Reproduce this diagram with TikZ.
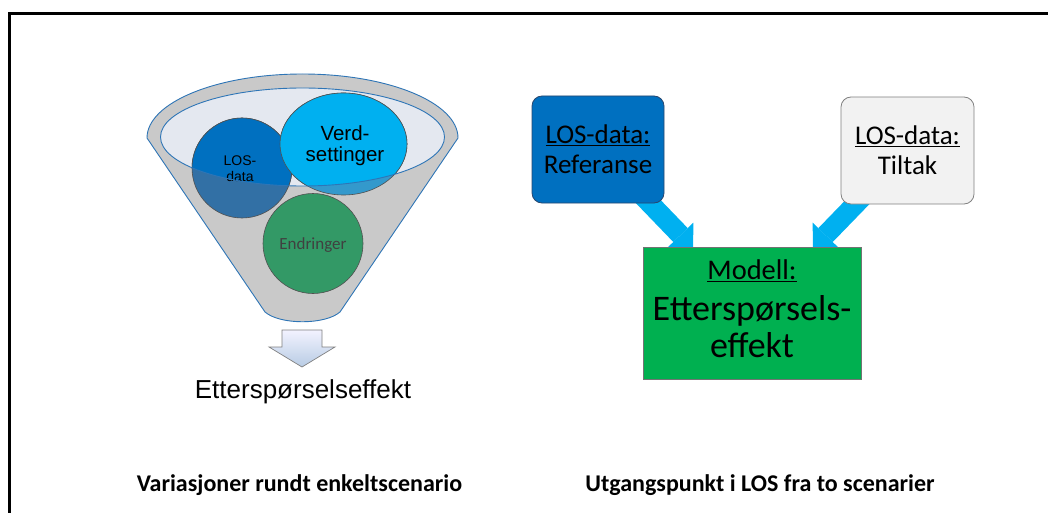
\documentclass[tikz,border=0pt]{standalone}
\usepackage{fontspec}
\setmainfont{Carlito}
\newfontfamily\arialf{Liberation Sans}
\usetikzlibrary{arrows.meta}
\pgfdeclarelayer{bg}
\pgfsetlayers{bg,main}
\definecolor{fgray}{RGB}{201,201,201}
\definecolor{fblue}{RGB}{46,117,182}
\definecolor{finner}{RGB}{228,232,240}
\definecolor{losB}{RGB}{0,112,192}
\definecolor{losM}{RGB}{50,112,165}
\definecolor{verB}{RGB}{0,176,240}
\definecolor{verM}{RGB}{51,153,204}
\definecolor{endM}{RGB}{51,153,102}
\definecolor{circline}{RGB}{80,80,80}
\definecolor{arrowblue}{RGB}{0,176,240}
\definecolor{boxgreen}{RGB}{0,176,80}
\definecolor{boxlight}{RGB}{242,242,242}
\definecolor{refline}{RGB}{40,70,110}
\definecolor{txtgray}{RGB}{64,64,64}
\tikzset{
  circ/.style={draw=circline, line width=0.6pt},
  boxbase/.style={minimum width=132pt, minimum height=107pt, inner sep=0pt, align=center, font=\fontsize{27}{30}\selectfont},
  refbox/.style={boxbase, rounded corners=10pt, fill=losB, draw=refline, line width=0.8pt},
  tilbox/.style={boxbase, minimum width=133pt, rounded corners=10pt, fill=boxlight, draw=black!50, line width=0.8pt},
  modbox/.style={minimum width=218pt, minimum height=132pt, inner sep=0pt, align=center, fill=boxgreen, draw=black!55, line width=0.6pt, font=\fontsize{36}{37}\selectfont},
  blockarrow/.style={line width=20pt, draw=arrowblue, -{Triangle[length=18pt,width=36pt,line width=0pt]}},
  funtext/.style={anchor=base, font=\arialf\fontsize{14}{17}\selectfont},
  vertext/.style={anchor=base, font=\arialf\fontsize{20.5}{21}\selectfont},
  caption/.style={anchor=base, font=\bfseries\fontsize{24}{28}\selectfont}
}
\begin{document}
\begin{tikzpicture}[x=1pt,y=1pt]
\useasboundingbox (0,0) rectangle (1048,-513);
\clip (0,0) rectangle (1048,-513);
\draw[line width=3pt] (9.5,-13.5) rectangle (1070,-540);

% funnel body
\fill[fgray] (147,-138) -- (265,-312) .. controls (280,-325) and (325,-325) .. (340,-312) -- (458,-138) arc[start angle=0,end angle=180,x radius=155.5,y radius=64] -- cycle;
\fill[finner] (302.5,-137) ellipse [x radius=142, y radius=49];

% circles (muted parts)
\fill[losM] (242,-168) circle (50);
\draw[circ] (242,-168) circle (50);
\fill[verM] (343.5,-144) ellipse [x radius=63.5, y radius=51];
\draw[circ] (343.5,-144) ellipse [x radius=63.5, y radius=51];
\fill[endM] (313,-243.5) circle (50);
\draw[circ] (313,-243.5) circle (50);
% bright parts inside the inner ellipse
\begin{scope}
\clip (302.5,-137) ellipse [x radius=142, y radius=49];
\fill[losB] (242,-168) circle (50);
\draw[circ] (242,-168) circle (50);
\fill[verB] (343.5,-144) ellipse [x radius=63.5, y radius=51];
\draw[circ] (343.5,-144) ellipse [x radius=63.5, y radius=51];
\end{scope}

% texts in the funnel
\node[funtext] (los1) at (240,-165) {LOS-};
\node[funtext] (los2) at (240,-182) {data};
\node[vertext] (ver1) at (345,-141) {Verd-};
\node[vertext] (ver2) at (345,-162) {settinger};
\node[anchor=base, font=\fontsize{17}{20}\selectfont, text=txtgray] (endr) at (313,-249.5) {Endringer};

% outlines
\draw[fblue, line width=0.9pt] (302.5,-137) ellipse [x radius=142, y radius=49];
\draw[fblue, line width=0.9pt] (147,-138) -- (265,-312) .. controls (280,-325) and (325,-325) .. (340,-312) -- (458,-138) arc[start angle=0,end angle=180,x radius=155.5,y radius=64] -- cycle;

% down arrow
\path[top color=blue!5!white, bottom color={rgb,255:red,184;green,204;blue,228}, draw=black!50, line width=0.7pt]
  (282,-330) -- (322,-330) -- (322,-347) -- (335,-347) -- (302,-367) -- (269,-347) -- (282,-347) -- cycle;
\node[anchor=base, font=\arialf\fontsize{26}{30}\selectfont] (eff) at (303,-398) {Etterspørselseffekt};

% right part
\node[refbox] (ref) at (598,-149.5) {\underline{LOS-data:}\\Referanse};
\node[tilbox] (til) at (907.5,-150.5) {\underline{LOS-data:}\\Tiltak};
\node[modbox] (mod) at (752,-313) {{\fontsize{28.5}{32}\selectfont\underline{Modell:}}\\[4pt]Etterspørsels-\\effekt\rule[-8pt]{0pt}{8pt}};
\begin{pgfonlayer}{bg}
\coordinate (tipA) at (693,-248);
\coordinate (tipB) at (813,-248);
\draw[blockarrow] (ref.center) -- (tipA);
\draw[blockarrow] (til.center) -- (tipB);
\end{pgfonlayer}

% captions
\node[caption] (capL) at (299.5,-491) {Variasjoner rundt enkeltscenario};
\node[caption] (capR) at (760,-491) {Utgangspunkt i LOS fra to scenarier};
\end{tikzpicture}
\end{document}
